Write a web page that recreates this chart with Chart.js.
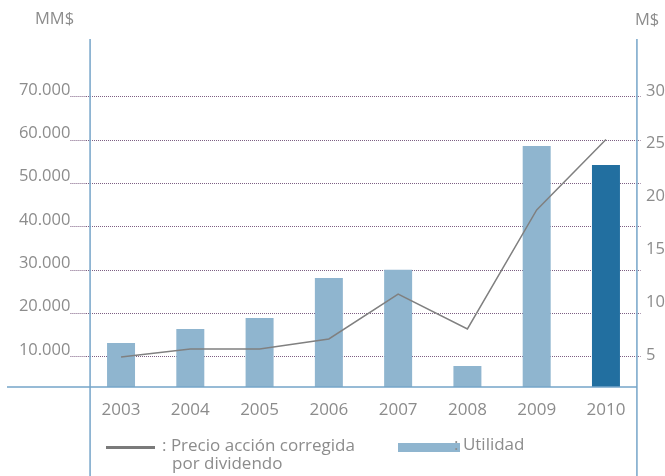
<!DOCTYPE html>
<html>
<head>
<meta charset="utf-8">
<script src="https://cdn.jsdelivr.net/npm/chart.js@4.4.1/dist/chart.umd.min.js"></script>
<style>
  body { margin: 0; background: #fff; }
  #wrap { position: relative; width: 665px; height: 476px; font-family: 'Open Sans', sans-serif; color: #8c8c8c; }
  #wrap canvas { position: absolute; left: 0; top: 0; }
  .t { position: absolute; white-space: nowrap; line-height: 18px; font-size: 17px; }
  .unit { font-size: 16.5px; }
</style>
</head>
<body>
<div id="wrap">
  <canvas id="chart" width="665" height="476"></canvas>
  <div class="t unit" style="left:35px; top:9px">MM$</div>
  <div class="t unit" style="left:635px; top:10px">M$</div>
  <div style="position:absolute; left:106px; top:446px; width:49px; height:3px; background:#7a7a7a"></div>
  <div class="t" style="left:162px; top:436px">: Precio acción corregida</div>
  <div class="t" style="left:172px; top:454px">por dividendo</div>
  <div style="position:absolute; left:398px; top:443px; width:62px; height:9px; background:#8fb5cf"></div>
  <div class="t" style="left:454px; top:435px">: Utilidad</div>
</div>
<script>
// datos
var years = ['2003', '2004', '2005', '2006', '2007', '2008', '2009', '2010'];
var utilidad = [13200, 16450, 19000, 28250, 30100, 7900, 58700, 54300];   // MM$
var precio = [4.86, 5.6, 5.6, 6.56, 10.8, 7.5, 18.75, 25.4];               // M$
var leftTicks = [10000, 20000, 30000, 40000, 50000, 60000, 70000];
var rightTicks = [5, 10, 15, 20, 25, 30];

var barLight = '#8fb5cf',
  barDark = '#226fa0',
  frameColor = '#76a5c9',
  gridColor = '#7d5f83',
  textColor = '#8c8c8c';

function miles(v) {
  return String(v).replace(/\B(?=(\d{3})+(?!\d))/g, '.');
}

// marco: ejes verticales y linea base
var framePlugin = {
  id: 'frame',
  afterDraw: function (chart) {
    var ctx = chart.ctx,
      x = chart.scales.x,
      area = chart.chartArea,
      step = x.getPixelForValue(1) - x.getPixelForValue(0),
      left = x.getPixelForValue(0) - 0.447 * step,
      right = x.getPixelForValue(years.length - 1) + 0.447 * step;
    ctx.save();
    ctx.strokeStyle = frameColor;
    ctx.lineWidth = 1.5;
    ctx.beginPath();
    ctx.moveTo(left, area.top);
    ctx.lineTo(left, chart.height);
    ctx.moveTo(right, area.top);
    ctx.lineTo(right, chart.height);
    ctx.moveTo(7, area.bottom);
    ctx.lineTo(right, area.bottom);
    ctx.stroke();
    ctx.restore();
  }
};

new Chart(document.getElementById('chart'), {
  data: {
    labels: years,
    datasets: [{
      type: 'line',
      label: 'Precio acción corregida por dividendo',
      data: precio,
      yAxisID: 'y1',
      borderColor: '#808080',
      borderWidth: 1.5,
      pointRadius: 0,
      tension: 0,
      order: 0
    }, {
      type: 'bar',
      label: 'Utilidad',
      data: utilidad,
      yAxisID: 'y',
      backgroundColor: years.map(function (y, i) {
        return i === years.length - 1 ? barDark : barLight;
      }),
      barPercentage: 0.404,
      categoryPercentage: 1,
      order: 1
    }]
  },
  options: {
    responsive: false,
    animation: false,
    devicePixelRatio: 1,
    layout: { padding: { top: 39, left: 0, right: 0, bottom: 0 } },
    plugins: {
      legend: { display: false },
      tooltip: { enabled: false }
    },
    scales: {
      x: {
        grid: { display: false, drawTicks: false },
        border: { display: false },
        ticks: {
          color: textColor,
          padding: 13,
          font: { family: 'Open Sans', size: 17 }
        },
        afterFit: function (s) { s.height = 89; }
      },
      y: {
        position: 'left',
        min: 3070,
        max: 83380,
        afterBuildTicks: function (s) {
          s.ticks = leftTicks.map(function (v) { return { value: v }; });
        },
        afterFit: function (s) { s.width = 86.4; },
        grid: {
          color: gridColor,
          lineWidth: 1,
          tickLength: 16,
          tickColor: gridColor,
          tickBorderDash: [1, 1]
        },
        border: { display: false, dash: [1, 1] },
        ticks: {
          color: textColor,
          padding: 0,
          labelOffset: -7,
          font: { family: 'Open Sans', size: 16.5 },
          callback: function (v) { return miles(v); }
        }
      },
      y1: {
        position: 'right',
        min: 2.02,
        max: 34.9,
        afterBuildTicks: function (s) {
          s.ticks = rightTicks.map(function (v) { return { value: v }; });
        },
        afterFit: function (s) { s.width = 24.4; },
        grid: { display: false, drawTicks: false },
        border: { display: false },
        ticks: {
          color: textColor,
          padding: 5.4,
          font: { family: 'Open Sans', size: 16.5 }
        }
      }
    }
  },
  plugins: [framePlugin]
});
</script>
</body>
</html>
